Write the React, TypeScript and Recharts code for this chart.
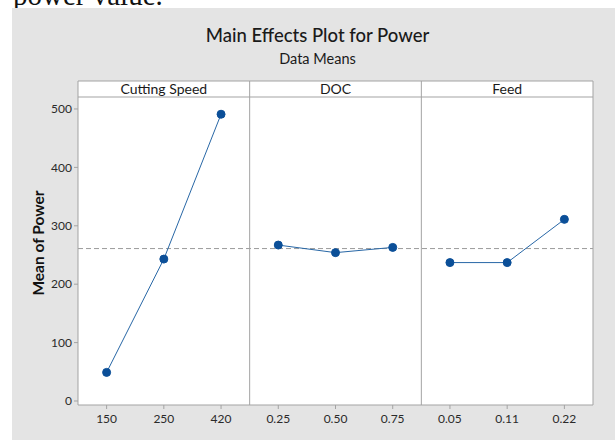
import React from "react";
import { LineChart, Line, XAxis, YAxis, ReferenceLine, ReferenceArea } from "recharts";

const cuttingSpeedLevels = ["150", "250", "420"];
const cuttingSpeedMeans = [49, 243, 491];
const docLevels = ["0.25", "0.50", "0.75"];
const docMeans = [267, 254, 263];
const feedLevels = ["0.05", "0.11", "0.22"];
const feedMeans = [237, 237, 311];
const yTicks = [0, 100, 200, 300, 400, 500];
const panelTitles = ["Cutting Speed", "DOC", "Feed"];

const grandMean =
  cuttingSpeedMeans.reduce((a, b) => a + b, 0) / cuttingSpeedMeans.length;

const allLabels = [...cuttingSpeedLevels, ...docLevels, ...feedLevels];

type Row = { pos: number; cs?: number | null; doc?: number | null; feed?: number | null };
const data: Row[] = [
  ...cuttingSpeedMeans.map((v, i) => ({ pos: i + 0.5, cs: v, doc: null, feed: null })),
  ...docMeans.map((v, i) => ({ pos: 3 + i + 0.5, cs: null, doc: v, feed: null })),
  ...feedMeans.map((v, i) => ({ pos: 6 + i + 0.5, cs: null, doc: null, feed: v })),
];
const xTicks = data.map((d) => d.pos);

const Y_MIN = -6.85;
const Y_HEAD = 520.5;
const Y_MAX = 547.9;

const FONT = "Lato, 'Open Sans', sans-serif";
const BORDER = "#a3a3a3";
const LINE = "#2867a6";
const DOT = "#0b4f98";

export default function App() {
  return (
    <div style={{ position: "absolute", left: 0, top: 0, width: 615, height: 440, background: "#fff", overflow: "hidden" }}>
      <div
        style={{
          position: "absolute",
          left: 13,
          top: -25,
          fontFamily: "'Liberation Serif', serif",
          fontSize: 29,
          lineHeight: "40px",
          color: "#111",
          whiteSpace: "nowrap",
        }}
      >
        power value.
      </div>
      <div style={{ position: "absolute", left: 12, top: 8, width: 603, height: 432, background: "#e4e4e4" }} />
      <div style={{ position: "absolute", left: 78, top: 81, width: 515, height: 324, background: "#fff" }} />
      <div
        style={{
          position: "absolute",
          left: 0,
          width: 615,
          top: 24,
          textAlign: "center",
          fontFamily: FONT,
          fontSize: 18.5,
          color: "#1a1a1a",
          fontWeight: 500,
          paddingLeft: 20,
          boxSizing: "border-box",
        }}
      >
        Main Effects Plot for Power
      </div>
      <div
        style={{
          position: "absolute",
          left: 0,
          width: 615,
          top: 50,
          textAlign: "center",
          fontFamily: FONT,
          fontSize: 14.5,
          color: "#1a1a1a",
          paddingLeft: 20,
          boxSizing: "border-box",
        }}
      >
        Data Means
      </div>
      <div
        style={{
          position: "absolute",
          left: 38,
          top: 243,
          transform: "translate(-50%, -50%) rotate(-90deg)",
          fontFamily: FONT,
          fontSize: 15.5,
          fontWeight: 700,
          color: "#111",
          whiteSpace: "nowrap",
        }}
      >
        Mean of Power
      </div>
      <div style={{ position: "absolute", left: 0, top: 0 }}>
        <LineChart width={615} height={440} data={data} margin={{ top: 81, right: 22, left: 0, bottom: 0 }}>
          <XAxis
            dataKey="pos"
            type="number"
            domain={[0, 9]}
            allowDataOverflow
            ticks={xTicks}
            tickFormatter={(v: number) => allLabels[Math.floor(v)]}
            height={35}
            tickSize={4}
            tickMargin={5}
            axisLine={false}
            tickLine={{ stroke: BORDER }}
            tick={{ fill: "#2a2a2a", fontSize: 12, fontFamily: FONT }}
            interval={0}
          />
          <YAxis
            width={78}
            type="number"
            domain={[Y_MIN, Y_MAX]}
            allowDataOverflow
            ticks={yTicks}
            tickSize={4}
            tickMargin={2}
            axisLine={false}
            tickLine={{ stroke: BORDER }}
            tick={{ fill: "#2a2a2a", fontSize: 12, fontFamily: FONT }}
          />
          <ReferenceLine y={grandMean} stroke="#9a9a9a" strokeDasharray="5 3" strokeWidth={1} />
          {panelTitles.map((t, i) => (
            <ReferenceArea
              key={t}
              x1={i * 3}
              x2={i * 3 + 3}
              y1={Y_HEAD}
              y2={Y_MAX}
              fill="none"
              fillOpacity={0}
              stroke="none"
              ifOverflow="visible"
              label={{ value: t, position: "center", fill: "#1a1a1a", fontSize: 14, fontFamily: FONT }}
            />
          ))}
          <ReferenceLine y={Y_MAX} stroke={BORDER} ifOverflow="visible" />
          <ReferenceLine y={Y_HEAD} stroke={BORDER} ifOverflow="visible" />
          <ReferenceLine y={Y_MIN} stroke={BORDER} ifOverflow="visible" />
          {[0, 3, 6, 9].map((x) => (
            <ReferenceLine key={x} x={x} stroke={BORDER} ifOverflow="visible" />
          ))}
          <Line dataKey="cs" stroke={LINE} strokeWidth={1} dot={{ r: 4, fill: DOT, stroke: DOT, strokeWidth: 1 }} isAnimationActive={false} connectNulls={false} />
          <Line dataKey="doc" stroke={LINE} strokeWidth={1} dot={{ r: 4, fill: DOT, stroke: DOT, strokeWidth: 1 }} isAnimationActive={false} connectNulls={false} />
          <Line dataKey="feed" stroke={LINE} strokeWidth={1} dot={{ r: 4, fill: DOT, stroke: DOT, strokeWidth: 1 }} isAnimationActive={false} connectNulls={false} />
        </LineChart>
      </div>
    </div>
  );
}
